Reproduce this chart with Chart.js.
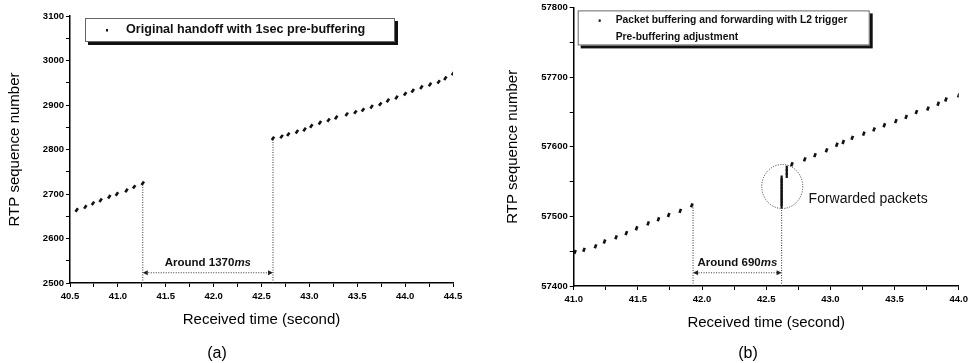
<!DOCTYPE html>
<html lang="en">
<head>
<meta charset="UTF-8" />
<title>RTP sequence number vs received time</title>
<script src="https://cdn.jsdelivr.net/npm/chart.js@4.4.0/dist/chart.umd.min.js"></script>
<style>
  body { margin: 0; background: #fff; font-family: 'Liberation Sans', Arial, sans-serif; }
  .wrap { position: relative; width: 972px; height: 363px; overflow: hidden; }
  canvas { position: absolute; top: 0; }
  #chartA { left: 0; }
  #chartB { left: 486px; }
  .cap { position: absolute; top: 344px; font-size: 16px; transform: translateX(-50%); color: #000; }
</style>
</head>
<body>
<div class="wrap">
  <canvas id="chartA" width="486" height="363"></canvas>
  <canvas id="chartB" width="486" height="363"></canvas>
  <div class="cap" style="left:217px">(a)</div>
  <div class="cap" style="left:748px">(b)</div>
</div>

<script>
// (a) original handoff, before and after the gap
const aTime1 = [40.57, 40.66, 40.74, 40.82, 40.91, 40.99, 41.09, 41.17, 41.26];
const aSeq1  = [2664, 2671, 2679, 2686, 2694, 2700, 2708, 2716, 2724];
const aTime2 = [42.62, 42.71, 42.78, 42.87, 42.95, 43.02, 43.11, 43.20, 43.28, 43.39, 43.48, 43.56,
                43.65, 43.74, 43.82, 43.91, 44.00, 44.08, 44.17, 44.26, 44.35, 44.42, 44.50];
const aSeq2  = [2825, 2829, 2834, 2840, 2845, 2853, 2860, 2866, 2872, 2879, 2884, 2889,
                2896, 2902, 2910, 2917, 2925, 2932, 2940, 2946, 2952, 2960, 2971];
const aGap = [41.26, 42.62];
const aXRange = [40.5, 44.5];
const aYRange = [2500, 3100];

// (b) buffering + forwarding with L2 trigger
const bTime1 = [41.01, 41.08, 41.17, 41.24, 41.33, 41.41, 41.49, 41.58, 41.66, 41.74, 41.83, 41.92];
const bSeq1  = [57449, 57452, 57457, 57464, 57470, 57476, 57483, 57490, 57496, 57502, 57508, 57516];
const bFwdTime = [42.62, 42.62, 42.62, 42.62, 42.62, 42.62, 42.62, 42.62, 42.62, 42.62, 42.62, 42.66, 42.66, 42.66];
const bFwdSeq  = [57515, 57519, 57523, 57527, 57531, 57535, 57539, 57543, 57547, 57551, 57555, 57559, 57564, 57569];
const bTime2 = [42.70, 42.80, 42.88, 42.97, 43.05, 43.10, 43.17, 43.26, 43.34, 43.42, 43.51, 43.59,
                43.67, 43.76, 43.84, 43.90, 44.00];
const bSeq2  = [57575, 57582, 57588, 57595, 57603, 57607, 57613, 57619, 57625, 57631, 57637, 57643,
                57650, 57655, 57662, 57668, 57674];
const bGap = [41.93, 42.62];
const bXRange = [41.0, 44.0];
const bYRange = [57400, 57800];

const FONT = "'Liberation Sans', Arial, sans-serif";

function pts(xs, ys) {
  return xs.map((x, i) => ({ x: x, y: ys[i] }));
}

function dottedSet(points) {
  return {
    data: points, showLine: true, pointRadius: 0, borderColor: '#333',
    borderWidth: 1, borderDash: [1, 1.5], fill: false
  };
}

function dashSet(points, rot, radius, width) {
  return {
    data: points, showLine: false, pointStyle: 'line', rotation: rot,
    pointRadius: radius, borderColor: '#111', borderWidth: width
  };
}

// arrow between the two gap lines, the interval text, the legend box
function notesPlugin(cfg) {
  return {
    id: 'notes',
    afterDatasetsDraw(chart) {
      const { ctx, chartArea, scales: { x, y } } = chart;
      const x1 = x.getPixelForValue(cfg.gap[0]);
      const x2 = x.getPixelForValue(cfg.gap[1]);
      const ya = y.getPixelForValue(cfg.arrowAt);
      ctx.save();
      ctx.strokeStyle = '#333';
      ctx.fillStyle = '#222';
      ctx.lineWidth = 1;
      ctx.setLineDash([1, 1.5]);
      ctx.beginPath();
      ctx.moveTo(x1 + 3, ya); ctx.lineTo(x2 - 3, ya);
      ctx.stroke();
      ctx.setLineDash([]);
      [[x1, 1], [x2, -1]].forEach(([px, d]) => {
        ctx.beginPath();
        ctx.moveTo(px, ya);
        ctx.lineTo(px + 5 * d, ya - 2.5);
        ctx.lineTo(px + 5 * d, ya + 2.5);
        ctx.closePath();
        ctx.fill();
      });

      // "Around ...ms"
      const cx = (x1 + x2) / 2;
      const ty = ya - 10;
      ctx.fillStyle = '#111';
      ctx.textBaseline = 'middle';
      ctx.font = 'bold 11.5px ' + FONT;
      const w1 = ctx.measureText(cfg.around).width;
      ctx.font = 'italic bold 11.5px ' + FONT;
      const w2 = ctx.measureText('ms').width;
      let sx = cx - (w1 + w2) / 2;
      ctx.textAlign = 'left';
      ctx.font = 'bold 11.5px ' + FONT;
      ctx.fillText(cfg.around, sx, ty);
      ctx.font = 'italic bold 11.5px ' + FONT;
      ctx.fillText('ms', sx + w1, ty);

      // circle around forwarded packets
      if (cfg.circle) {
        const ccx = x.getPixelForValue(cfg.circle[0]);
        const ccy = y.getPixelForValue(cfg.circle[1]);
        ctx.strokeStyle = '#333';
        ctx.setLineDash([1, 1.5]);
        ctx.beginPath();
        ctx.ellipse(ccx, ccy, 20.5, 22, 0, 0, Math.PI * 2);
        ctx.stroke();
        ctx.setLineDash([]);
        ctx.font = '14px ' + FONT;
        ctx.fillStyle = '#111';
        ctx.fillText(cfg.circleText, x.getPixelForValue(cfg.circleTextAt[0]), y.getPixelForValue(cfg.circleTextAt[1]));
      }

      // legend box with a dark drop shadow
      const L = chartArea.left + cfg.legend.dx;
      const T = chartArea.top + cfg.legend.dy;
      const W = cfg.legend.w, H = cfg.legend.h;
      ctx.fillStyle = '#111';
      ctx.fillRect(L + 3, T + 3, W, H);
      ctx.fillStyle = '#fff';
      ctx.fillRect(L, T, W, H);
      ctx.strokeStyle = '#666';
      ctx.lineWidth = 1;
      ctx.strokeRect(L + 0.5, T + 0.5, W - 1, H - 1);
      ctx.fillStyle = '#111';
      ctx.fillRect(L + cfg.legend.mx - 1, T + cfg.legend.lines[0].dy - 1, 2, 2.5);
      ctx.textAlign = 'left';
      ctx.textBaseline = 'middle';
      ctx.font = cfg.legend.font;
      cfg.legend.lines.forEach(ln => ctx.fillText(ln.text, L + ln.dx, T + ln.dy));
      ctx.restore();
    }
  };
}

function axes(xr, yr, yw, yTitlePad, xh) {
  const tickFont = { family: FONT, size: 9.5, weight: 'bold' };
  const titleFont = { family: FONT, size: 15 };
  return {
    x: {
      type: 'linear', min: xr[0], max: xr[1],
      border: { display: true, color: '#000', width: 1.5 },
      grid: { display: true, drawOnChartArea: false, drawTicks: true, tickLength: 4, color: '#000' },
      ticks: {
        stepSize: 0.25, autoSkip: false, maxRotation: 0, padding: 4, color: '#000', font: tickFont,
        callback: v => Math.abs(v * 2 - Math.round(v * 2)) < 1e-6 ? v.toFixed(1) : ''
      },
      title: { display: true, text: 'Received time (second)', color: '#000', font: titleFont, padding: { top: 0, bottom: 0 } },
      afterFit: s => { s.height = xh; }
    },
    y: {
      type: 'linear', min: yr[0], max: yr[1],
      border: { display: true, color: '#000', width: 1.5 },
      grid: { display: true, drawOnChartArea: false, drawTicks: true, tickLength: 4, color: '#000' },
      ticks: {
        stepSize: 50, autoSkip: false, padding: 2, color: '#000', font: tickFont,
        callback: v => v % 100 === 0 ? String(v) : ''
      },
      title: { display: true, text: 'RTP sequence number', color: '#000', font: titleFont, padding: { top: yTitlePad, bottom: 0 } },
      afterFit: s => { s.width = yw; }
    }
  };
}

const baseOpts = {
  responsive: false,
  animation: false,
  devicePixelRatio: 1,
  plugins: { legend: { display: false }, tooltip: { enabled: false } }
};

new Chart(document.getElementById('chartA'), {
  type: 'scatter',
  data: {
    datasets: [
      dashSet(pts(aTime1, aSeq1), -55, 2.1, 2.6),
      dashSet(pts(aTime2, aSeq2), -55, 2.1, 2.6),
      dottedSet([{ x: aGap[0], y: aYRange[0] }, { x: aGap[0], y: aSeq1[aSeq1.length - 1] }]),
      dottedSet([{ x: aGap[1], y: aYRange[0] }, { x: aGap[1], y: aSeq2[0] }])
    ]
  },
  options: Object.assign({}, baseOpts, {
    layout: { padding: { left: 0, top: 16, right: 33, bottom: 34 } },
    scales: axes(aXRange, aYRange, 70, 6, 46)
  }),
  plugins: [notesPlugin({
    gap: aGap, arrowAt: 2523, around: 'Around 1370',
    legend: {
      dx: 15, dy: 2, w: 310, h: 24, mx: 22, font: 'bold 12.6px ' + FONT,
      lines: [{ text: 'Original handoff with 1sec pre-buffering', dx: 41, dy: 12 }]
    }
  })]
});

new Chart(document.getElementById('chartB'), {
  type: 'scatter',
  data: {
    datasets: [
      dashSet(pts(bTime1, bSeq1), -70, 2.1, 2.6),
      dashSet(pts(bFwdTime, bFwdSeq), 90, 2.6, 2.2),
      dashSet(pts(bTime2, bSeq2), -70, 2.1, 2.6),
      dottedSet([{ x: bGap[0], y: bYRange[0] }, { x: bGap[0], y: bSeq1[bSeq1.length - 1] }]),
      dottedSet([{ x: bGap[1], y: bYRange[0] }, { x: bGap[1], y: bFwdSeq[0] }])
    ]
  },
  options: Object.assign({}, baseOpts, {
    layout: { padding: { left: 0, top: 7.3, right: 12.7, bottom: 31 } },
    scales: axes(bXRange, bYRange, 87.7, 17.7, 46)
  }),
  plugins: [notesPlugin({
    gap: bGap, arrowAt: 57419, around: 'Around 690',
    circle: [42.625, 57543], circleText: 'Forwarded packets', circleTextAt: [42.83, 57525],
    legend: {
      dx: 4, dy: 2.7, w: 292, h: 35, mx: 22, font: 'bold 10.3px ' + FONT,
      lines: [
        { text: 'Packet buffering and forwarding with L2 trigger', dx: 38, dy: 10 },
        { text: 'Pre-buffering adjustment', dx: 38, dy: 27 }
      ]
    }
  })]
});
</script>
</body>
</html>
